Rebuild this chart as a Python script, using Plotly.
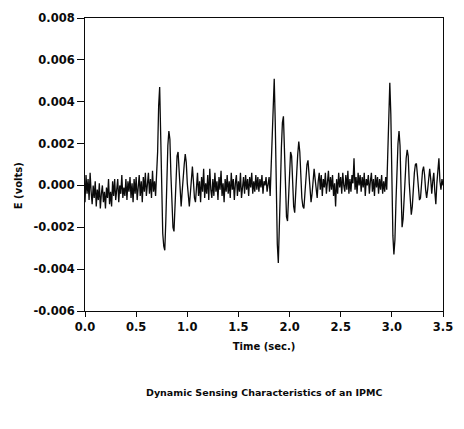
import plotly.graph_objects as go

# Sensor output sampled every 10 ms, in millivolts
sample_period_s = 0.01
signal_mv = [
    # 0.00 - 0.69 s : baseline
    -0.8, 0.5, -0.4, 0.3, -0.7, 0.6, -0.3, -0.9, 0.0, -0.6,
    0.2, -1.0, -0.2, -0.7, 0.1, -1.1, -0.4, 0.0, -0.8, -0.3,
    -1.1, -0.1, -0.6, 0.3, -0.9, -0.3, -1.0, 0.2, -0.5, 0.3,
    -0.7, -0.2, 0.3, -0.8, 0.0, -0.4, 0.5, -0.6, -0.1, -0.5,
    0.3, -0.7, 0.2, -0.3, 0.4, -0.6, 0.1, -0.8, 0.3, -0.4,
    0.4, -0.7, -0.1, 0.5, -0.5, 0.2, -0.8, 0.4, -0.3, 0.6,
    -0.5, 0.0, 0.6, -0.4, 0.3, -0.6, 0.7, -0.3, 0.2, -0.5,
    # 0.70 - 1.09 s : first excitation
    0.3, 1.6, 3.8, 4.7, 2.4, -0.6, -2.3, -2.9, -3.1, -1.7,
    0.4, 1.9, 2.6, 2.2, 0.5, -1.2, -2.0, -2.2, -1.0, 0.4,
    1.4, 1.6, 0.6, -0.7, -1.0, -0.3, 0.6, 1.0, 1.5, 1.1,
    0.1, -0.7, -1.0, -0.4, 0.5, 0.9, 0.2, -0.6, -0.8, 0.1,
    # 1.10 - 1.79 s : baseline
    0.6, -0.5, 0.2, -0.8, 0.4, -0.3, 0.8, -0.6, 0.1, -0.4,
    0.5, -0.7, 0.8, -0.2, -0.6, 0.3, -0.5, 0.6, -0.3, 0.2,
    -0.7, 0.4, -0.2, 0.7, -0.5, 0.1, -0.8, 0.3, -0.3, 0.5,
    -0.4, 0.2, -0.6, 0.6, -0.2, 0.3, -0.7, 0.1, 0.5, -0.5,
    0.2, -0.3, 0.6, -0.6, 0.0, 0.4, -0.4, 0.5, -0.2, 0.3,
    -0.5, 0.4, -0.1, 0.6, -0.4, 0.2, -0.3, 0.5, -0.2, 0.4,
    -0.3, 0.3, -0.1, 0.5, -0.4, 0.2, 0.0, 0.4, -0.3, 0.1,
    # 1.80 - 2.29 s : second excitation
    0.4, -0.5, 1.2, 2.6, 4.3, 5.1, 3.0, -0.6, -2.8, -3.7,
    -2.4, -0.2, 1.8, 3.0, 3.3, 1.7, -0.4, -1.5, -1.7, -0.6,
    0.7, 1.6, 1.4, 0.0, -1.0, -1.3, -0.6, 0.6, 1.5, 2.1,
    1.6, 0.4, -0.6, -1.0, -1.1, -0.4, 0.4, 1.0, 1.2, 0.6,
    -0.3, -0.8, -0.4, 0.3, 0.8, 0.3, -0.4, -0.6, 0.2, 0.6,
    # 2.30 - 2.89 s : baseline
    -0.2, 0.5, -0.5, 0.3, -0.1, 0.6, -0.4, 0.2, 0.7, -0.3,
    0.4, -0.2, 0.5, -0.5, 0.1, -1.0, 0.3, -0.4, 0.6, -0.1,
    0.4, -0.4, 0.6, 0.0, -0.3, 0.5, -0.2, 0.7, -0.4, 0.3,
    -0.3, 0.5, 0.1, 1.3, -0.2, 0.4, -0.4, 0.6, 0.0, 0.5,
    -0.3, 0.4, -0.1, 0.6, -0.5, 0.3, 0.0, 0.5, -0.4, 0.2,
    0.6, -0.3, 0.3, -0.5, 0.5, -0.1, 0.4, -0.4, 0.3, -0.2,
    # 2.90 - 3.50 s : third excitation and decay
    0.5, -0.4, 0.2, -0.3, 0.4, -0.2, 1.5, 4.2, 4.9, 3.4,
    0.4, -2.4, -3.3, -2.6, -0.8, 0.9, 2.0, 2.6, 1.9, -0.2,
    -2.0, -1.6, -0.4, 0.6, 1.3, 1.7, 1.4, 0.1, -1.0, -1.4,
    -1.0, -0.1, 0.6, 1.0, 1.05, 0.5, -0.3, -0.7, -0.6, 0.1,
    0.7, 0.9, 0.5, -0.2, -0.6, -0.2, 0.5, 0.8, 0.3, -0.4,
    0.2, 0.6, -0.3, -0.9, 0.1, 0.7, 1.3, 0.2, -0.2, 0.3,
    0.0,
]

time_s = [round(i * sample_period_s, 2) for i in range(len(signal_mv))]
signal_v = [v / 1000.0 for v in signal_mv]

x_tick_vals = [0.0, 0.5, 1.0, 1.5, 2.0, 2.5, 3.0, 3.5]
x_tick_text = ["0.0", "0.5", "1.0", "1.5", "2.0", "2.5", "3.0", "3.5"]
y_tick_vals = [-0.006, -0.004, -0.002, 0.0, 0.002, 0.004, 0.006, 0.008]
y_tick_text = ["-0.006", "-0.004", "-0.002", "0.000", "0.002", "0.004", "0.006", "0.008"]

FONT = "DejaVu Sans"
INK = "#0a0a0a"

fig = go.Figure()
fig.add_trace(go.Scatter(
    x=time_s, y=signal_v, mode="lines",
    line=dict(color=INK, width=1.3),
    showlegend=False, hoverinfo="x+y",
))

axis_common = dict(
    showgrid=False, zeroline=False,
    showline=True, linecolor=INK, linewidth=1, mirror=True,
    ticks="outside", tickcolor=INK, tickwidth=1,
    tickfont=dict(family=FONT, size=11.5, color=INK, weight="bold"),
)

fig.update_xaxes(
    range=[0, 3.5], tickvals=x_tick_vals, ticktext=x_tick_text, ticklen=5,
    title=dict(text="Time (sec.)", standoff=10,
               font=dict(family=FONT, size=10, color=INK, weight="bold")),
    **axis_common,
)
fig.update_yaxes(
    range=[-0.006, 0.008], tickvals=y_tick_vals, ticktext=y_tick_text, ticklen=7,
    **axis_common,
)

# Vertical axis label, centred on the zero line
fig.add_annotation(
    text="E (volts)", textangle=-90,
    xref="paper", yref="y", x=-0.185, y=0.0,
    xanchor="center", yanchor="middle", showarrow=False,
    font=dict(family=FONT, size=10, color=INK, weight="bold"),
)

fig.add_annotation(
    text="Dynamic Sensing Characteristics of an IPMC",
    xref="paper", yref="paper", x=0.5, y=-0.278,
    xanchor="center", yanchor="middle", showarrow=False,
    font=dict(family=FONT, size=9.5, color=INK, weight="bold"),
)

fig.update_layout(
    width=464, height=429,
    margin=dict(l=85, r=11, t=14, b=118),
    paper_bgcolor="white", plot_bgcolor="white",
)

fig.write_html("out.html")
